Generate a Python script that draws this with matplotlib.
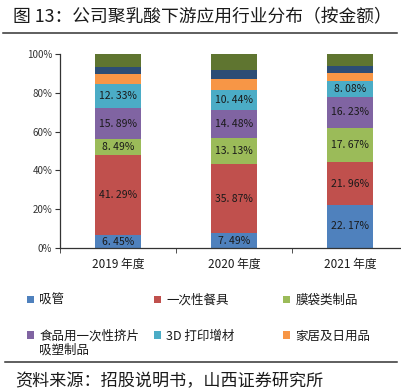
import matplotlib
matplotlib.use('Agg')
import matplotlib.pyplot as plt
from matplotlib.patches import Patch
from matplotlib.lines import Line2D
import numpy as np

plt.rcParams['font.family'] = ['Noto Sans CJK SC', 'DejaVu Sans']

# 数据
years = ['2019 年度', '2020 年度', '2021 年度']
xiguan = [6.45, 7.49, 22.17]          # 吸管
canju = [41.29, 35.87, 21.96]         # 一次性餐具
modai = [8.49, 13.13, 17.67]          # 膜袋类制品
shipin = [15.89, 14.48, 16.23]        # 食品用一次性挤片吸塑制品
dayin = [12.33, 10.44, 8.08]          # 3D 打印增材
jiaju = [5.30, 5.79, 3.90]            # 家居及日用品
qita1 = [3.60, 4.80, 3.60]            # 未标注
qita2 = [6.65, 8.00, 6.39]            # 未标注

series = [xiguan, canju, modai, shipin, dayin, jiaju, qita1, qita2]
names = ['吸管', '一次性餐具', '膜袋类制品', '食品用一次性挤片', '3D 打印增材', '家居及日用品']
colors = ['#4F81BD', '#C0504D', '#9BBB59', '#8064A2', '#4BACC6', '#F79646', '#2C4D75', '#5F7530']
show_label = [True, True, True, True, True, False, False, False]

fig = plt.figure(figsize=(4.01, 3.92), dpi=100)
ax = fig.add_axes([60/401, 1 - 248/392, 348/401, 194/392])

x = np.arange(len(years))
bottom = np.zeros(len(years))
for s, c, lab in zip(series, colors, show_label):
    vals = np.array(s)
    ax.bar(x, vals, 0.4, bottom=bottom, color=c, edgecolor='none')
    if lab:
        for xi, b, v in zip(x, bottom, vals):
            txt = ('%.2f%%' % v).replace('.', '. ')
            ax.text(xi, b + v / 2, txt, ha='center', va='center',
                    fontsize=7.5, color='#1a1a1a')
    bottom += vals

ax.set_xlim(-0.5, 2.5)
ax.set_ylim(0, 100)
ax.set_yticks(np.arange(0, 101, 20))
ax.set_yticklabels(['%d%%' % v for v in range(0, 101, 20)], fontsize=7, color='#333333')
ax.set_xticks(x)
ax.set_xticklabels(years, fontsize=8.5, color='#1a1a1a')
ax.tick_params(axis='x', which='major', length=0, pad=7)
ax.set_xticks([-0.5, 0.5, 1.5, 2.5], minor=True)
ax.tick_params(axis='x', which='minor', length=3.5, direction='out', color='#333333')
ax.tick_params(axis='y', length=3.5, direction='out', color='#333333', pad=2)
for sp in ['top', 'right']:
    ax.spines[sp].set_visible(False)
for sp in ['left', 'bottom']:
    ax.spines[sp].set_color('#333333')
    ax.spines[sp].set_linewidth(0.9)

# 图例：三列，每列两项
handles = [Patch(facecolor=c, edgecolor='none') for c in colors[:6]]
col_x = [27, 154, 283]
for k in range(3):
    idx = [k, k + 3]
    leg = fig.legend([handles[i] for i in idx], [names[i] for i in idx],
                     loc='upper left', bbox_to_anchor=(col_x[k]/401, 1 - 294/392),
                     frameon=False, fontsize=9, handlelength=0.55, handleheight=0.55,
                     handletextpad=0.45, labelspacing=1.8,
                     borderaxespad=0, borderpad=0)
    for t in leg.get_texts():
        t.set_color('#1a1a1a')
fig.text(39/401, 1 - 350/392, '吸塑制品', fontsize=9, color='#1a1a1a', va='center')

# 标题与来源
fig.text(13/401, 1 - 17/392, '图 13：公司聚乳酸下游应用行业分布（按金额）', fontsize=12.8,
         color='#1a1a1a', va='center')
fig.add_artist(Line2D([3/401, 397/401], [1 - 33/392, 1 - 33/392], color='#333333', lw=1.1))
fig.add_artist(Line2D([5/401, 397/401], [1 - 362/392, 1 - 362/392], color='#333333', lw=1.1))
fig.text(15/401, 1 - 381/392, '资料来源：招股说明书，山西证券研究所', fontsize=12.3,
         color='#1a1a1a', va='center')

fig.savefig('out.png', dpi=100)
